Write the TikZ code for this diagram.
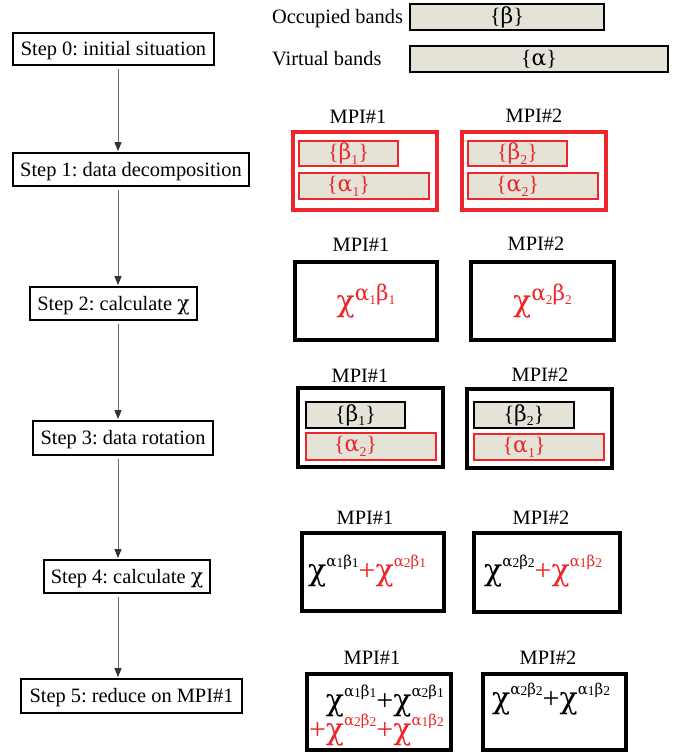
\documentclass[tikz,border=0pt]{standalone}
\usepackage{fontspec}
\setmainfont{Liberation Serif}
\newfontfamily\grk{DejaVu Serif}
\usepackage{graphicx}
\usetikzlibrary{arrows.meta}
\frenchspacing
\definecolor{myred}{RGB}{236,38,42}
\definecolor{bandfill}{RGB}{229,226,216}
\definecolor{arrgray}{RGB}{105,105,105}
\newcommand{\bandfont}{\fontsize{22}{25}\selectfont}
\newcommand{\chifont}{\fontsize{30}{34}\selectfont}
\newcommand{\gr}[1]{{\grk #1}}
\newcommand{\lowsub}[1]{\raisebox{-0.22em}{\scalebox{0.62}{#1}}}
\newcommand{\chiA}[4]{\gr{χ}\raisebox{0.38em}{\scalebox{0.72}{\gr{#1}\lowsub{#2}\gr{#3}\lowsub{#4}}}}
\newcommand{\dg}[1]{\raisebox{-0.05em}{\scalebox{0.9}{#1}}}
\newcommand{\chiB}[4]{\gr{χ}\raisebox{0.45em}{\scalebox{0.5}{\gr{#1}\dg{#2}\gr{#3}\dg{#4}}}}
\newcommand{\rectnode}[7]{\node[#1, minimum width={#5-#3}, minimum height={#6-#4}] (#2) at ({(#3+#5)/2},{(#4+#6)/2}) {#7};}
\tikzset{
  stepbox/.style={draw, line width=1.8pt, inner sep=0pt, text height=15.3pt, text depth=1.8pt},
  mpibox/.style={draw, line width=3.5pt, inner sep=0pt},
  redbox/.style={draw=myred, line width=3.5pt, inner sep=0pt},
  bandbox/.style={draw, fill=bandfill, line width=2pt, inner sep=0pt, font=\bandfont},
  redband/.style={bandbox, draw=myred, text=myred},
  lbl/.style={inner sep=0pt, text height=15.3pt, text depth=1.8pt},
  bandtxt/.style={inner sep=0pt, font=\bandfont},
  chitxt/.style={inner sep=0pt, font=\chifont},
  arr/.style={draw=arrgray, line width=1pt, shorten <=3pt, shorten >=1pt,
    -{Triangle[length=9pt,width=7pt,color=black!80]}}
}
\begin{document}
\begin{tikzpicture}[x=1pt,y=-1pt,font=\fontsize{20.4}{24}\selectfont]
\useasboundingbox (0,0) rectangle (690,753);
% top legend
\node[lbl, anchor=west] (occl) at (272,17) {Occupied bands};
\rectnode{bandbox}{occ}{410}{4}{604}{30}{\{\gr{β}\}}
\node[lbl, anchor=west] (virl) at (272,59) {Virtual bands};
\rectnode{bandbox}{vir}{410}{46}{668}{72}{\{\gr{α}\}}
% steps
\rectnode{stepbox}{s0}{13}{33}{214}{65}{Step 0: initial situation}
\rectnode{stepbox}{s1}{13}{153}{249}{186}{Step 1: data decomposition}
\rectnode{stepbox}{s2}{30}{287}{197}{320}{Step 2: calculate \gr{χ}}
\rectnode{stepbox}{s3}{33}{421}{213}{455}{Step 3: data rotation}
\rectnode{stepbox}{s4}{44}{560}{210}{593}{Step 4: calculate \gr{χ}}
\rectnode{stepbox}{s5}{21}{679}{242}{713}{Step 5: reduce on MPI\#1}
\coordinate (ax) at (118,0);
\draw[arr] (ax |- s0.south) -- (ax |- s1.north);
\draw[arr] (ax |- s1.south) -- (ax |- s2.north);
\draw[arr] (ax |- s2.south) -- (ax |- s3.north);
\draw[arr] (ax |- s3.south) -- (ax |- s4.north);
\draw[arr] (ax |- s4.south) -- (ax |- s5.north);
% step 1
\node[lbl] (m11) at (358,117) {MPI\#1};
\rectnode{redbox}{p11}{293}{132}{437}{210}{}
\rectnode{redband}{b11}{299}{141}{398}{166}{\{\gr{β}\lowsub{1}\}}
\rectnode{redband}{a11}{299}{173}{429}{199}{}
\node[bandtxt, text=myred] (a11t) at (b11.center |- a11.center) {\{\gr{α}\lowsub{1}\}};
\node[lbl] (m12) at (534,116) {MPI\#2};
\rectnode{redbox}{p12}{462}{132}{606}{210}{}
\rectnode{redband}{b12}{468}{141}{567}{166}{\{\gr{β}\lowsub{2}\}}
\rectnode{redband}{a12}{468}{173}{598}{199}{}
\node[bandtxt, text=myred] (a12t) at (b12.center |- a12.center) {\{\gr{α}\lowsub{2}\}};
% step 2
\node[lbl] (m21) at (361,245) {MPI\#1};
\rectnode{mpibox}{p21}{295}{262}{437}{340}{}
\node[chitxt, text=myred] (c21) at (p21.center) {\chiA{α}{1}{β}{1}};
\node[lbl] (m22) at (536,244) {MPI\#2};
\rectnode{mpibox}{p22}{471}{262}{614}{340}{}
\node[chitxt, text=myred] (c22) at (p22.center) {\chiA{α}{2}{β}{2}};
% step 3
\node[lbl] (m31) at (360,376) {MPI\#1};
\rectnode{mpibox}{p31}{298}{388}{443}{467}{}
\rectnode{bandbox}{b31}{306}{402}{405}{428}{\{\gr{β}\lowsub{1}\}}
\rectnode{redband}{a31}{306}{433}{436}{460}{}
\node[bandtxt, text=myred] (a31t) at (b31.center |- a31.center) {\{\gr{α}\lowsub{2}\}};
\node[lbl] (m32) at (540,375) {MPI\#2};
\rectnode{mpibox}{p32}{467}{389}{612}{468}{}
\rectnode{bandbox}{b32}{474}{402}{574}{428}{\{\gr{β}\lowsub{2}\}}
\rectnode{redband}{a32}{474}{434}{604}{460}{}
\node[bandtxt, text=myred] (a32t) at (b32.center |- a32.center) {\{\gr{α}\lowsub{1}\}};
% step 4
\node[lbl] (m41) at (365,518) {MPI\#1};
\rectnode{mpibox}{p41}{302}{533}{444}{611}{}
\node[chitxt, anchor=base west] (c41) at (308,580) {\chiB{α}{1}{β}{1}\textcolor{myred}{+\chiB{α}{2}{β}{1}}};
\node[lbl] (m42) at (541,518) {MPI\#2};
\rectnode{mpibox}{p42}{474}{533}{620}{612}{}
\node[chitxt, anchor=base west] (c42) at (484,580) {\chiB{α}{2}{β}{2}\textcolor{myred}{+\chiB{α}{1}{β}{2}}};
% step 5
\node[lbl] (m51) at (372,658) {MPI\#1};
\rectnode{mpibox}{p51}{307}{674}{451}{750}{}
\node[chitxt, anchor=base east] (c51a) at (444,710) {\chiB{α}{1}{β}{1}+\chiB{α}{2}{β}{1}};
\node[chitxt, anchor=base east, text=myred] (c51b) at (444,739) {+\chiB{α}{2}{β}{2}+\chiB{α}{1}{β}{2}};
\node[lbl] (m52) at (548,658) {MPI\#2};
\rectnode{mpibox}{p52}{483}{674}{626}{750}{}
\node[chitxt, anchor=base west] (c52) at (492,708) {\chiB{α}{2}{β}{2}+\chiB{α}{1}{β}{2}};
\end{tikzpicture}
\end{document}
